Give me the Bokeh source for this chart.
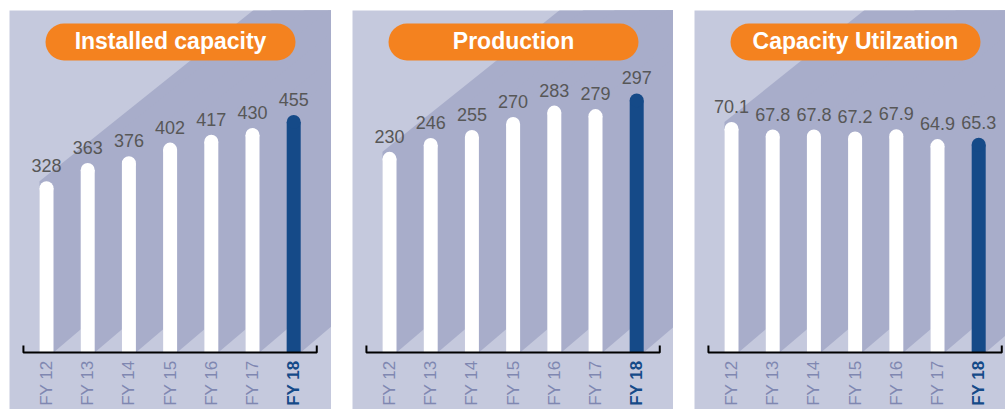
import math

from bokeh.core.properties import value
from bokeh.embed import file_html
from bokeh.layouts import row
from bokeh.models import ColumnDataSource, Range1d
from bokeh.plotting import figure
from bokeh.resources import INLINE

# ---- data -------------------------------------------------------------
categories = ["FY 12", "FY 13", "FY 14", "FY 15", "FY 16", "FY 17", "FY 18"]
installed_capacity = [328, 363, 376, 402, 417, 430, 455]
production = [230, 246, 255, 270, 283, 279, 297]
capacity_utilization = [70.1, 67.8, 67.8, 67.2, 67.9, 64.9, 65.3]
panel_titles = ["Installed capacity", "Production", "Capacity Utilzation"]

# ---- style ------------------------------------------------------------
PANEL_BG = "#c5c9dd"
SHADOW = "#a8adca"
BAR_WHITE = "#ffffff"
BAR_BLUE = "#154a88"
PILL = "#f4821f"
VALUE_GREY = "#575757"
TICK_GREY = "#7f87b1"
FONT = "Liberation Sans"

H = 399            # panel height, px
BASE = 342         # zero line, px below the panel top
STEP = 41.2        # px between bar centres
FIRST = 37         # px from the panel's left edge to the first bar centre
BAR_PX = 14        # bar thickness, px
TOP_SLOPE = 0.8    # rise/run of the shadow's upper edge (screen px)
BOTTOM_SLOPE = 0.85
AXIS_ENDS = (-0.56, 6.56)
VALUE_FS = 18
TICK_FS = 17
TITLE_FS = 23


def make_panel(title, values, texts, y_top, width):
    ppx = STEP
    ppy = BASE / y_top
    x_start = -FIRST / ppx
    x_end = (width - FIRST) / ppx
    y_start = -(H - BASE) / ppy

    p = figure(width=width, height=H, title=None,
               x_range=Range1d(x_start, x_end), y_range=Range1d(y_start, y_top),
               x_axis_type=None, y_axis_type=None,
               output_backend="svg", toolbar_location=None, min_border=0,
               background_fill_color=PANEL_BG, border_fill_color=PANEL_BG,
               outline_line_color=None)

    idx = list(range(len(values)))
    w = BAR_PX / ppx
    k = ppx / ppy
    far = x_end + 1

    # diagonal shadows cast to the right of every bar
    sx, sy = [], []
    for i, v in zip(idx, values):
        xl, xr = i - w / 2, i + w / 2
        sx.append([xl, far, far, xr, xl])
        sy.append([v, v + TOP_SLOPE * (far - xl) * k,
                   BOTTOM_SLOPE * (far - xr) * k, 0, 0])
    p.patches(sx, sy, fill_color=SHADOW, line_color=None)

    # rounded bars
    colors = [BAR_WHITE] * (len(values) - 1) + [BAR_BLUE]
    r = (BAR_PX / 2) / ppy
    bars = ColumnDataSource(dict(x=idx, top=[v - r for v in values], color=colors))
    p.vbar(x="x", top="top", bottom=0, width=w, fill_color="color",
           line_color=None, source=bars)
    p.scatter(x="x", y="top", size=BAR_PX, marker="circle", fill_color="color",
              line_color=None, source=bars)

    # value labels, centred a fixed gap above each bar
    lift = (9 + 0.36 * VALUE_FS) / ppy
    p.text(x=idx, y=[v + lift for v in values], text=texts,
           text_align="center", text_baseline="middle",
           text_font=value(FONT), text_font_size=f"{VALUE_FS}px",
           text_color=VALUE_GREY)

    # bracket-shaped category axis
    a, b = AXIS_ENDS
    t = 7 / ppy
    p.line(x=[a, a, b, b], y=[t, 0, 0, t], line_color="black", line_width=2)

    ticks = ColumnDataSource(dict(
        x=idx, y=[-8 / ppy] * len(idx), text=categories,
        color=[TICK_GREY] * (len(idx) - 1) + [BAR_BLUE],
        style=["normal"] * (len(idx) - 1) + ["bold"]))
    p.text(x="x", y="y", text="text", angle=math.pi / 2,
           text_align="right", text_baseline="middle",
           text_font=value(FONT), text_font_size=f"{TICK_FS}px",
           text_color="color", text_font_style="style", source=ticks)

    # orange title pill
    pill_left, pill_right, pill_h = 36, 286, 37
    cap = pill_h / 2
    pill_y = (BASE - 31.5) / ppy
    p.segment(x0=[(pill_left + cap - FIRST) / ppx], y0=[pill_y],
              x1=[(pill_right - cap - FIRST) / ppx], y1=[pill_y],
              line_color=PILL, line_width=pill_h, line_cap="round")
    p.text(x=[((pill_left + pill_right) / 2 - FIRST) / ppx], y=[(BASE - 30.5) / ppy],
           text=[title], text_align="center", text_baseline="middle",
           text_font=value(FONT), text_font_size=f"{TITLE_FS}px",
           text_font_style="bold", text_color="white")
    return p


p1 = make_panel(panel_titles[0], installed_capacity,
                [f"{v:d}" for v in installed_capacity], 655, 322)
p2 = make_panel(panel_titles[1], production,
                [f"{v:d}" for v in production], 392, 321)
p3 = make_panel(panel_titles[2], capacity_utilization,
                [f"{v:.1f}" for v in capacity_utilization], 104, 311)

layout = row(p1, p2, p3, spacing=21, margin=(10, 0, 0, 9))

open("out.html", "w").write(file_html(layout, INLINE))
